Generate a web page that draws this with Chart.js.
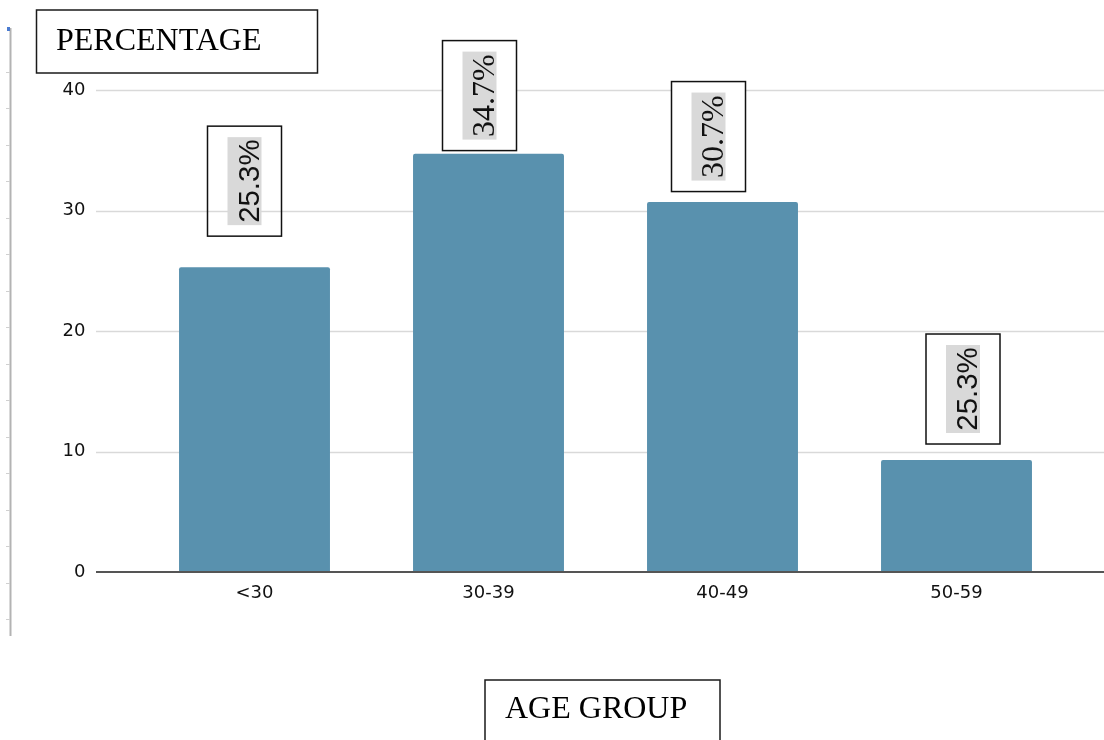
<!DOCTYPE html>
<html>
<head>
<meta charset="utf-8">
<title>Age group distribution</title>
<script src="https://cdn.jsdelivr.net/npm/chart.js@4.4.1/dist/chart.umd.min.js"></script>
<style>
  html, body { margin: 0; padding: 0; background: #ffffff; }
  #wrap { position: relative; width: 1104px; height: 740px; overflow: hidden; }
  canvas { display: block; }
</style>
</head>
<body>
<div id="wrap"><canvas id="chart" width="1104" height="740"></canvas></div>
<script>
// Age groups and the share of respondents in each
const categories = ['<30', '30-39', '40-49', '50-59'];
const percentages = [25.3, 34.7, 30.7, 9.3];
// Text printed in the callout above each bar
const valueLabels = ['25.3%', '34.7%', '30.7%', '25.3%'];
// Value-axis ticks
const yTicks = [0, 10, 20, 30, 40];

// Callout placement: top edge in axis units, horizontal nudge in px
const calloutTop = [37.0, 44.1, 40.7, 19.75];
const calloutShift = [-10, -9, -14, 6.5];
const calloutFont = [
  { family: '"Liberation Sans", Arial, sans-serif', size: 30, squeeze: 0.98 },
  { family: '"Liberation Serif", "Times New Roman", serif', size: 32, squeeze: 1.0 },
  { family: '"Liberation Serif", "Times New Roman", serif', size: 32, squeeze: 1.0 },
  { family: '"Liberation Sans", Arial, sans-serif', size: 30, squeeze: 0.98 }
];
const calloutFill = [null, '#ffffff', '#ffffff', '#ffffff'];

const BAR_COLOR = '#5991ae';
const GRID_COLOR = '#d9d9d9';
const TICK_FONT = { family: '"DejaVu Sans", Verdana, sans-serif', size: 18 };

const decorations = {
  id: 'decorations',
  beforeDatasetsDraw(chart) {
    const { ctx, scales: { y } } = chart;
    ctx.save();
    ctx.strokeStyle = GRID_COLOR;
    ctx.lineWidth = 1.5;
    yTicks.forEach(v => {
      if (v === 0) return;
      const py = Math.round(y.getPixelForValue(v)) + 0.5;
      ctx.beginPath();
      ctx.moveTo(96, py);
      ctx.lineTo(chart.width, py);
      ctx.stroke();
    });
    ctx.restore();
  },
  afterDatasetsDraw(chart) {
    const { ctx, scales: { x, y } } = chart;
    ctx.save();
    // baseline
    const py0 = y.getPixelForValue(0);
    ctx.strokeStyle = '#555555';
    ctx.lineWidth = 2;
    ctx.beginPath();
    ctx.moveTo(96, py0);
    ctx.lineTo(chart.width, py0);
    ctx.stroke();

    // value callouts
    const boxW = 74, boxH = 110;
    valueLabels.forEach((txt, i) => {
      const cx = x.getPixelForValue(i) + calloutShift[i];
      const top = y.getPixelForValue(calloutTop[i]);
      const left = cx - boxW / 2;
      const cy = top + boxH / 2;
      if (calloutFill[i]) {
        ctx.fillStyle = calloutFill[i];
        ctx.fillRect(left, top, boxW, boxH);
      }
      ctx.strokeStyle = '#111111';
      ctx.lineWidth = 1.5;
      ctx.strokeRect(left, top, boxW, boxH);

      const f = calloutFont[i];
      ctx.save();
      ctx.translate(cx, cy);
      ctx.rotate(-Math.PI / 2);
      ctx.fillStyle = '#d9d9d9';
      ctx.fillRect(-44, -17, 88, 34);
      ctx.scale(f.squeeze, 1);
      ctx.font = f.size + 'px ' + f.family;
      ctx.fillStyle = '#111111';
      ctx.textAlign = 'center';
      ctx.textBaseline = 'alphabetic';
      ctx.fillText(txt, 0, 14);
      ctx.restore();
    });
    ctx.restore();
  },
  afterDraw(chart) {
    const { ctx } = chart;
    ctx.save();
    // page margin rule with small ticks
    ctx.strokeStyle = '#b3b3b3';
    ctx.lineWidth = 2;
    ctx.beginPath();
    ctx.moveTo(10.5, 28);
    ctx.lineTo(10.5, 636);
    ctx.stroke();
    ctx.strokeStyle = '#d0d0d0';
    ctx.lineWidth = 1;
    for (let ty = 71.6; ty < 630; ty += 36.5) {
      const yy = Math.round(ty) + 0.5;
      ctx.beginPath();
      ctx.moveTo(6, yy);
      ctx.lineTo(10, yy);
      ctx.stroke();
    }
    ctx.fillStyle = '#4a7bd0';
    ctx.fillRect(7, 27, 3, 4);

    // axis caption boxes
    ctx.font = '32px "Liberation Serif", "Times New Roman", serif';
    ctx.textAlign = 'left';
    ctx.textBaseline = 'alphabetic';
    ctx.fillStyle = '#ffffff';
    ctx.fillRect(36, 10, 282, 63);
    ctx.strokeStyle = '#1a1a1a';
    ctx.lineWidth = 1.5;
    ctx.strokeRect(36.5, 10, 281, 63);
    ctx.fillStyle = '#000000';
    ctx.fillText('PERCENTAGE', 56, 50);

    ctx.strokeRect(485, 680, 235, 80);
    ctx.fillText('AGE GROUP', 505, 718);
    ctx.restore();
  }
};

new Chart(document.getElementById('chart'), {
  type: 'bar',
  data: {
    labels: categories,
    datasets: [{
      data: percentages,
      backgroundColor: BAR_COLOR,
      borderWidth: 0,
      borderRadius: { topLeft: 2, topRight: 2, bottomLeft: 0, bottomRight: 0 },
      borderSkipped: 'bottom',
      barPercentage: 0.645,
      categoryPercentage: 1.0
    }]
  },
  plugins: [decorations],
  options: {
    responsive: false,
    animation: false,
    devicePixelRatio: 1,
    layout: { padding: { top: 90, left: 0, right: 30.5, bottom: 0 } },
    plugins: {
      legend: { display: false },
      tooltip: { enabled: false }
    },
    scales: {
      x: {
        grid: { display: false, drawTicks: false },
        border: { display: false },
        ticks: { color: '#111111', font: TICK_FONT, padding: 11 },
        afterFit(scale) { scale.height = 168; }
      },
      y: {
        min: 0,
        max: 40,
        grid: { display: false, drawTicks: false },
        border: { display: false },
        afterBuildTicks(scale) { scale.ticks = yTicks.map(v => ({ value: v })); },
        ticks: { color: '#111111', font: TICK_FONT, padding: 52 },
        afterFit(scale) { scale.width = 137.5; }
      }
    }
  }
});
</script>
</body>
</html>
